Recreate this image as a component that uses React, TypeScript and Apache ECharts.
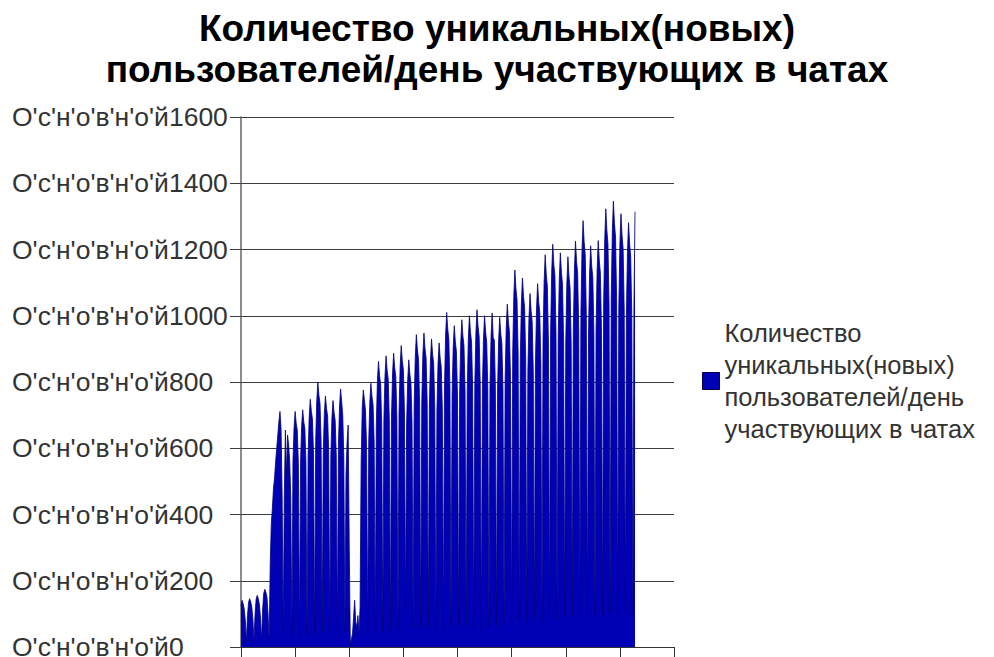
import React, { useEffect, useRef } from "react";
import * as echarts from "echarts";

const TITLE = "Количество уникальных(новых)\nпользователей/день участвующих в чатах";
const SERIES_NAME = "Количество уникальных(новых) пользователей/день участвующих в чатах";
const LEGEND_TEXT = "Количество\nуникальных(новых)\nпользователей/день\nучаствующих в чатах";
const Y_LABEL_PREFIX = "О'с'н'о'в'н'о'й";
const Y_TICKS = [0, 200, 400, 600, 800, 1000, 1200, 1400, 1600];
const X_TICK_STEP = 50;
const X_MAX = 400;

// daily values, one row per week
const days01 = [
  125, 141, 130, 115, 80, 15, 95,
  135, 146, 136, 120, 82, 18, 100,
  145, 156, 146, 128, 88, 20, 115,
  162, 174, 165, 150, 100, 22, 250,
  373, 420, 480, 510, 560, 600, 640,
  680, 711, 660, 460, 40, 450, 655,
  520, 640, 610, 560, 450, 38, 560,
];
const days02 = [
  661, 711, 675, 654, 555, 35, 558,
  666, 716, 680, 659, 558, 35, 583,
  696, 748, 711, 688, 583, 40, 623,
  743, 799, 759, 735, 623, 45, 591,
  705, 758, 720, 697, 591, 40, 580,
  692, 744, 707, 684, 580, 40, 608,
  724, 779, 740, 700, 570, 45, 523,
];
const days03 = [
  620, 670, 300, 5, 25, 40, 90,
  141, 75, 60, 95, 40, 120, 560,
  720, 776, 746, 714, 605, 40, 621,
  740, 796, 756, 732, 621, 50, 672,
  802, 862, 819, 793, 672, 45, 686,
  817, 879, 835, 809, 686, 50, 692,
  825, 887, 843, 816, 692, 55, 710,
];
const days04 = [
  846, 910, 865, 837, 710, 110, 676,
  806, 867, 824, 798, 676, 60, 736,
  877, 943, 896, 868, 736, 57, 739,
  882, 948, 901, 872, 739, 60, 725,
  865, 930, 884, 856, 725, 55, 716,
  854, 918, 872, 845, 716, 60, 788,
  939, 1010, 960, 929, 788, 65, 757,
];
const days05 = [
  902, 970, 922, 892, 757, 60, 771,
  919, 988, 939, 909, 771, 65, 780,
  930, 1000, 950, 920, 780, 55, 794,
  947, 1018, 967, 937, 794, 50, 780,
  930, 1000, 950, 920, 780, 60, 786,
  937, 1008, 933, 927, 786, 65, 776,
  925, 995, 945, 915, 776, 70, 807,
];
const days06 = [
  963, 1035, 983, 952, 807, 75, 888,
  1058, 1138, 1081, 1047, 888, 80, 869,
  1036, 1114, 1058, 1025, 869, 75, 832,
  992, 1067, 1014, 982, 832, 85, 856,
  1020, 1097, 1042, 1009, 856, 80, 924,
  1101, 1184, 1125, 1089, 924, 90, 948,
  1131, 1216, 1155, 1119, 948, 85, 928,
];
const days07 = [
  1107, 1190, 1131, 1095, 928, 95, 919,
  1096, 1178, 1119, 1084, 919, 90, 956,
  1139, 1225, 1164, 1127, 956, 100, 1004,
  1197, 1287, 1223, 1184, 1004, 95, 945,
  1126, 1211, 1150, 1114, 945, 100, 957,
  1141, 1227, 1166, 1129, 957, 95, 1032,
  1230, 1323, 1257, 1217, 1032, 105, 1050,
];
const days08 = [
  1252, 1346, 1279, 1238, 1050, 100, 1020,
  1216, 1308, 1243, 1203, 1020, 110, 999,
  1191, 1281, 1217, 1179, 999, 100, 1025,
  1314,
];

const FONT = "'Liberation Sans', Arial, sans-serif";

export default function App() {
  const ref = useRef<HTMLDivElement>(null);
  useEffect(() => {
    document.body.style.margin = "0";
    if (!ref.current) return;
    const chart = echarts.init(ref.current, null, { renderer: "svg" });
    const values = [...days01, ...days02, ...days03, ...days04, ...days05, ...days06, ...days07, ...days08];
    const data = values.map((v, i) => [i, v]);
    chart.setOption({
      animation: false,
      backgroundColor: "#ffffff",
      title: {
        text: TITLE,
        left: "center",
        top: 3,
        textStyle: { fontFamily: FONT, fontSize: 37, fontWeight: "bold", color: "#000", lineHeight: 41 },
      },
      legend: {
        left: 697,
        top: 312,
        orient: "vertical",
        itemWidth: 17,
        itemHeight: 17,
        icon: "rect",
        formatter: () => LEGEND_TEXT,
        textStyle: { fontFamily: FONT, fontSize: 25.5, color: "#333", lineHeight: 32 },
        data: [{ name: SERIES_NAME, itemStyle: { color: "#0000b4", borderColor: "#00004a", borderWidth: 1 } }],
      },
      grid: { left: 241, right: 320, top: 117, bottom: 10, outerBoundsMode: "none" },
      xAxis: {
        type: "value",
        min: 0,
        max: X_MAX,
        interval: X_TICK_STEP,
        axisLine: { show: true, lineStyle: { color: "#333", width: 1 } },
        axisTick: { show: true, length: 10, lineStyle: { color: "#333", width: 1 } },
        axisLabel: { show: false },
        splitLine: { show: false },
      },
      yAxis: {
        type: "value",
        min: Y_TICKS[0],
        max: Y_TICKS[Y_TICKS.length - 1],
        interval: Y_TICKS[1] - Y_TICKS[0],
        axisLine: { show: true, lineStyle: { color: "#666", width: 1.5 } },
        axisTick: { show: true, length: 11, lineStyle: { color: "#3c3c3c", width: 1 } },
        axisLabel: {
          align: "left",
          margin: 229,
          fontFamily: FONT,
          fontSize: 26.5,
          color: "#333",
          formatter: (v: number) => Y_LABEL_PREFIX + v,
        },
        splitLine: { show: true, lineStyle: { color: "#3c3c3c", width: 1 } },
      },
      series: [
        {
          name: SERIES_NAME,
          type: "line",
          data,
          showSymbol: false,
          smooth: false,
          lineStyle: { color: "#00007a", width: 0.8 },
          itemStyle: { color: "#0000b4" },
          areaStyle: { color: "#0000b4", opacity: 1 },
        },
      ],
    });
    return () => chart.dispose();
  }, []);
  return <div ref={ref} style={{ width: 994, height: 657 }} />;
}
